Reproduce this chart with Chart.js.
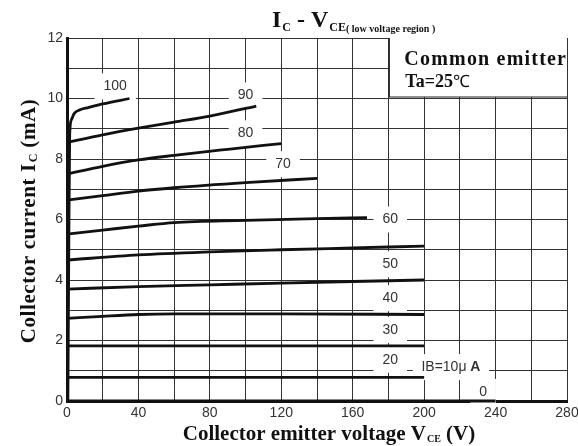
<!DOCTYPE html>
<html>
<head>
<meta charset="utf-8">
<script src="https://cdn.jsdelivr.net/npm/chart.js@4/dist/chart.umd.min.js"></script>
<style>
  html, body { margin: 0; padding: 0; background: #fff; }
  #chart { display: block; }
</style>
</head>
<body>
<canvas id="chart" width="578" height="446"></canvas>
<script>
// Ic - Vce curves, one pair of arrays per base current (uA)
const ib0V = [0, 240];
const ib0I = [0, 0];
const ib10V = [0, 200];
const ib10I = [0.78, 0.78];
const ib20V = [0, 200];
const ib20I = [1.82, 1.82];
const ib30V = [0, 20, 40, 60, 120, 200];
const ib30I = [2.73, 2.8, 2.86, 2.88, 2.88, 2.86];
const ib40V = [0, 40, 80, 120, 160, 200];
const ib40I = [3.7, 3.78, 3.84, 3.9, 3.95, 4.0];
const ib50V = [0, 40, 80, 120, 160, 200];
const ib50I = [4.66, 4.83, 4.93, 5.0, 5.06, 5.12];
const ib60V = [0, 20, 40, 60, 100, 140, 168];
const ib60I = [5.52, 5.65, 5.78, 5.9, 5.97, 6.03, 6.06];
const ib70V = [0, 20, 40, 60, 100, 140];
const ib70I = [6.64, 6.79, 6.94, 7.05, 7.22, 7.36];
const ib80V = [0, 20, 40, 60, 90, 120];
const ib80I = [7.5, 7.76, 7.97, 8.12, 8.32, 8.51];
const ib90V = [0, 20, 40, 60, 80, 106];
const ib90I = [8.55, 8.8, 9.02, 9.22, 9.42, 9.75];
const ib100V = [0.5, 1, 1.5, 2.5, 4, 7, 12, 20, 35];
const ib100I = [0, 5, 8.8, 9.3, 9.5, 9.62, 9.7, 9.82, 10.0];

// curve labels (text, V, Ic)
const labelTexts = ['100', '90', '80', '70', '60', '50', '40', '30', '20', 'IB=10\u03bc A', '0'];
const labelV = [27, 100, 100, 121, 181, 181, 181, 181, 181, 215, 233];
const labelI = [10.4, 10.1, 8.85, 7.83, 6.0, 4.52, 3.4, 2.35, 1.36, 1.12, 0.3];

const xTicks = [0, 40, 80, 120, 160, 200, 240, 280];
const yTicks = [0, 2, 4, 6, 8, 10, 12];

const curves = [
    [ib0V, ib0I], [ib10V, ib10I], [ib20V, ib20I], [ib30V, ib30I], [ib40V, ib40I],
    [ib50V, ib50I], [ib60V, ib60I], [ib70V, ib70I], [ib80V, ib80I], [ib90V, ib90I],
    [ib100V, ib100I]
];

const serif = '"Liberation Serif", "Times New Roman", serif';
const sans = '"Liberation Sans", Arial, sans-serif';

// draws text pieces with sub/normal sizes left to right
const drawRuns = (ctx, x, y, runs) => {
    runs.forEach(r => {
        ctx.font = r.font;
        ctx.letterSpacing = r.ls || '0px';
        ctx.fillText(r.t, x, y + (r.dy || 0));
        x += ctx.measureText(r.t).width + (r.gap || 0);
    });
    ctx.letterSpacing = '0px';
    return x;
};

const runsWidth = (ctx, runs) => {
    const w = runs.reduce((acc, r) => {
        ctx.font = r.font;
        ctx.letterSpacing = r.ls || '0px';
        return acc + ctx.measureText(r.t).width + (r.gap || 0);
    }, 0);
    ctx.letterSpacing = '0px';
    return w;
};

const textPlugin = {
    id: 'texts',
    beforeDatasetsDraw(chart) {
        const ctx = chart.ctx;
        const xs = chart.scales.x, ys = chart.scales.y;
        ctx.save();
        ctx.fillStyle = '#fff';
        labelTexts.forEach((t, i) => {
            const px = xs.getPixelForValue(labelV[i]);
            const py = ys.getPixelForValue(labelI[i]);
            ctx.font = '14px ' + sans;
            const w = ctx.measureText(t).width + 18;
            ctx.fillRect(px - w / 2, py - 13, w, 26);
        });
        ctx.restore();
    },
    afterDatasetsDraw(chart) {
        const ctx = chart.ctx;
        const xs = chart.scales.x, ys = chart.scales.y;
        const area = chart.chartArea;
        ctx.save();

        // curve labels
        ctx.fillStyle = '#333';
        ctx.textAlign = 'center';
        ctx.textBaseline = 'middle';
        labelTexts.forEach((t, i) => {
            ctx.font = '14px ' + sans;
            const px = xs.getPixelForValue(labelV[i]);
            const py = ys.getPixelForValue(labelI[i]);
            if (t.startsWith('IB')) {
                ctx.textAlign = 'left';
                const runs = [
                    { t: 'IB=10\u03bc ', font: '14px ' + sans },
                    { t: 'A', font: 'bold 14px ' + sans }
                ];
                drawRuns(ctx, px - runsWidth(ctx, runs) / 2, py, runs);
                ctx.textAlign = 'center';
            } else {
                ctx.fillText(t, px, py);
            }
        });

        // condition box
        const bx = xs.getPixelForValue(180.5);
        const by = ys.getPixelForValue(10.05);
        ctx.fillStyle = '#fff';
        ctx.fillRect(bx, area.top, area.right - bx, by - area.top);
        ctx.strokeStyle = '#222';
        ctx.lineWidth = 1.2;
        ctx.beginPath();
        ctx.moveTo(bx, area.top);
        ctx.lineTo(bx, by);
        ctx.lineTo(area.right, by);
        ctx.stroke();
        ctx.fillStyle = '#111';
        ctx.textAlign = 'left';
        ctx.textBaseline = 'alphabetic';
        drawRuns(ctx, bx + 15, 65, [
            { t: 'Common emitter', font: 'bold 20px ' + serif, ls: '1.2px' }
        ]);
        drawRuns(ctx, bx + 16, 87, [
            { t: 'Ta=25', font: 'bold 18px ' + serif },
            { t: '\u2103', font: '17px ' + serif }
        ]);
        ctx.restore();
    },
    afterDraw(chart) {
        const ctx = chart.ctx;
        ctx.save();
        ctx.fillStyle = '#111';
        ctx.textBaseline = 'alphabetic';
        ctx.textAlign = 'left';

        // title
        drawRuns(ctx, 272, 27, [
            { t: 'I', font: 'bold 24px ' + serif, gap: 1 },
            { t: 'C', font: 'bold 12px ' + serif, dy: 4 },
            { t: ' - V', font: 'bold 24px ' + serif, gap: 1 },
            { t: 'CE', font: 'bold 12px ' + serif, dy: 4 },
            { t: '( low voltage region )', font: 'bold 10px ' + serif, dy: 5 }
        ]);

        // x axis title
        const xRuns = [
            { t: 'Collector emitter voltage V', font: 'bold 21px ' + serif, gap: 1 },
            { t: 'CE', font: 'bold 10px ' + serif, dy: 2 },
            { t: ' (V)', font: 'bold 21px ' + serif }
        ];
        const xw = runsWidth(ctx, xRuns);
        drawRuns(ctx, 329 - xw / 2, 440, xRuns);

        // y axis title
        const yRuns = [
            { t: 'Collector current I', font: 'bold 21px ' + serif, gap: 1, ls: '0.6px' },
            { t: 'C', font: 'bold 12px ' + serif, dy: 2 },
            { t: ' (mA)', font: 'bold 21px ' + serif, ls: '0.6px' }
        ];
        const yw = runsWidth(ctx, yRuns);
        ctx.translate(35, 221);
        ctx.rotate(-Math.PI / 2);
        drawRuns(ctx, -yw / 2, 0, yRuns);
        ctx.restore();
    }
};

new Chart(document.getElementById('chart'), {
    type: 'scatter',
    data: {
        datasets: curves.map(([vs, is]) => ({
            data: vs.map((v, i) => ({ x: v, y: is[i] })),
            showLine: true,
            borderColor: '#111',
            borderWidth: 2.8,
            pointRadius: 0,
            cubicInterpolationMode: 'monotone',
            clip: false
        }))
    },
    options: {
        responsive: false,
        animation: false,
        layout: { padding: { top: 38, right: 11, left: 0, bottom: 0 } },
        plugins: { legend: { display: false }, tooltip: { enabled: false } },
        scales: {
            x: {
                type: 'linear', min: 0, max: 280,
                afterFit: s => { s.height = 45; s.paddingLeft = 0; s.paddingRight = 0; },
                grid: { color: '#333', lineWidth: 1, drawTicks: false },
                border: { color: '#111', width: 3 },
                ticks: {
                    stepSize: 20, padding: 4, color: '#333',
                    font: { family: sans, size: 14 },
                    callback: v => xTicks.includes(v) ? String(v) : ''
                }
            },
            y: {
                type: 'linear', min: 0, max: 12,
                afterFit: s => { s.width = 67; s.paddingTop = 0; s.paddingBottom = 0; },
                grid: { color: '#333', lineWidth: 1, drawTicks: false },
                border: { color: '#111', width: 3 },
                ticks: {
                    stepSize: 1, padding: 4, color: '#333',
                    font: { family: sans, size: 14 },
                    callback: v => yTicks.includes(v) ? String(v) : ''
                }
            }
        }
    },
    plugins: [textPlugin]
});
</script>
</body>
</html>
